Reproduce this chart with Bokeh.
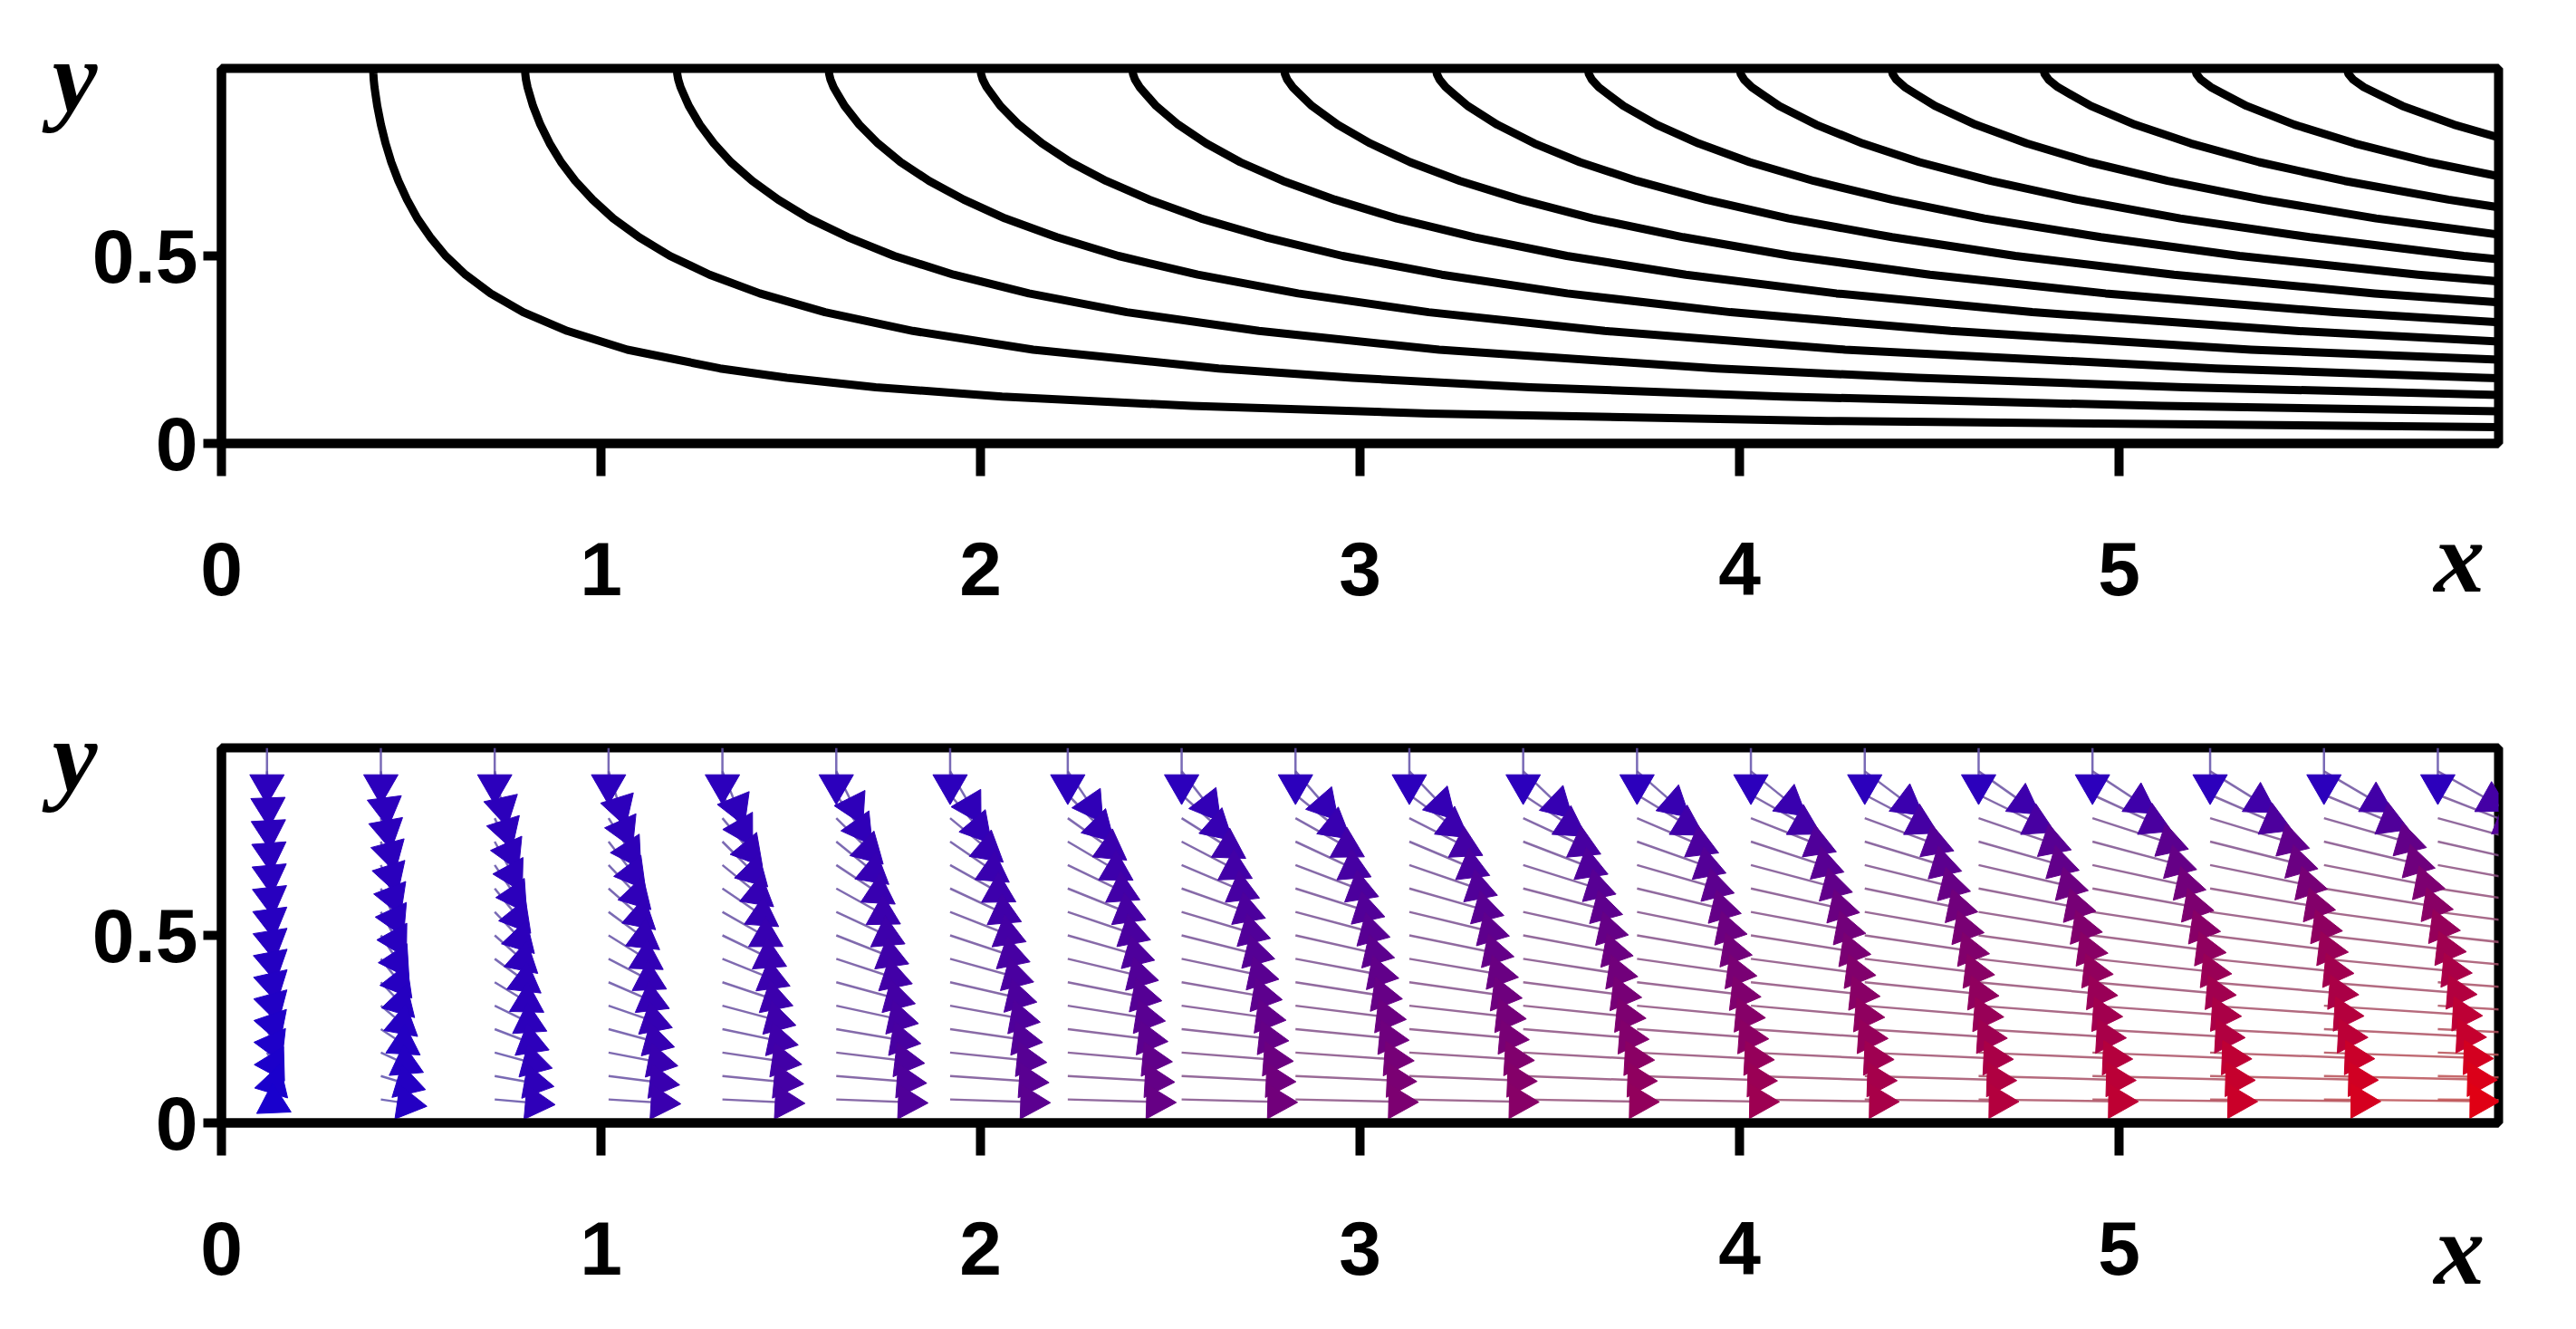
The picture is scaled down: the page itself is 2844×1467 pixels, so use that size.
import math
from bokeh.plotting import figure
from bokeh.models import Range1d, FixedTicker, LinearAxis, ColumnDataSource
from bokeh.layouts import column
from bokeh.embed import file_html
from bokeh.resources import INLINE

# ---------------- data ----------------
# where each streamline leaves the injecting (top) wall, x
stream_top_x = [0.4, 0.8, 1.2, 1.6, 2.0, 2.4, 2.8, 3.2, 3.6, 4.0, 4.4, 4.8, 5.2, 5.6]
# normalised stream-function profile across the channel (psi = x * f(y))
profile_y = [1.0, 0.985, 0.97, 0.95, 0.93, 0.9, 0.85, 0.8, 0.75, 0.7, 0.65, 0.6, 0.55,
             0.5, 0.45, 0.4, 0.35, 0.3, 0.25, 0.2, 0.175, 0.15, 0.125, 0.1, 0.08, 0.06,
             0.04, 0.02, 0.01]
profile_f = [1.0, 0.9992, 0.997, 0.992, 0.985, 0.9745, 0.952, 0.925, 0.894, 0.858, 0.818,
             0.775, 0.727, 0.677, 0.622, 0.564, 0.503, 0.439, 0.374, 0.3045, 0.2685, 0.232,
             0.1945, 0.1565, 0.1257, 0.0945, 0.063, 0.0316, 0.0158]

# quiver grid
arrow_cols_x = [0.12, 0.42, 0.72, 1.02, 1.32, 1.62, 1.92, 2.23, 2.53, 2.83,
                3.13, 3.43, 3.73, 4.03, 4.33, 4.63, 4.93, 5.24, 5.54, 5.84]
arrow_rows_y = [1.0, 0.9375, 0.875, 0.8125, 0.75, 0.6875, 0.625, 0.5625,
                0.5, 0.4375, 0.375, 0.3125, 0.25, 0.1875, 0.125, 0.0625]
# axial velocity per unit x, and transverse velocity, at each row
row_u_rate = [0.0, 0.30, 0.42, 0.58, 0.67, 0.78, 0.88, 0.97,
              1.05, 1.13, 1.20, 1.28, 1.34, 1.45, 1.51, 1.55]
row_v = [-1.0, -0.990, -0.964, -0.932, -0.894, -0.848, -0.797, -0.739,
         -0.677, -0.608, -0.534, -0.455, -0.374, -0.287, -0.195, -0.098]

x_ticks = [0, 1, 2, 3, 4, 5]
x_tick_labels = ["0", "1", "2", "3", "4", "5"]
y_ticks = [0, 0.5]
y_tick_labels = ["0", "0.5"]
x_name, y_name = "x", "y"
x_name_pos, y_name_pos = 5.897, 0.978

# ---------------- styling / layout ----------------
FW, FH = 2514, 414
X_END, Y_END = 6.0, 1.0
TICK_FONT = "Liberation Sans"
LABEL_FONT = "Liberation Serif"
AX_W = 10


def make_fig(top, bottom, x_name_standoff):
    p = figure(frame_width=FW, frame_height=FH, x_range=Range1d(0, X_END),
               y_range=Range1d(0, Y_END), output_backend="svg", toolbar_location=None,
               min_border_left=244, min_border_right=70, min_border_top=top,
               min_border_bottom=bottom)
    p.grid.visible = False
    p.background_fill_color = "white"
    p.border_fill_color = "white"
    p.outline_line_color = "black"
    p.outline_line_width = AX_W
    for ax, ticks, labels in ((p.xaxis[0], x_ticks, x_tick_labels),
                              (p.yaxis[0], y_ticks, y_tick_labels)):
        ax.ticker = FixedTicker(ticks=ticks)
        ax.major_label_overrides = {t: l for t, l in zip(ticks, labels)}
        ax.axis_line_width = AX_W
        ax.axis_line_color = "black"
        ax.major_tick_line_width = AX_W
        ax.major_tick_line_color = "black"
        ax.major_tick_in = 0
        ax.minor_tick_line_color = None
        ax.major_label_text_font = TICK_FONT
        ax.major_label_text_font_style = "bold"
        ax.major_label_text_font_size = "84px"
        ax.major_label_text_color = "black"
    p.xaxis[0].major_tick_out = 36
    p.xaxis[0].major_label_standoff = 73
    p.yaxis[0].major_tick_out = 20
    p.yaxis[0].major_label_standoff = 6

    # axis names: single-label guide axes stacked outside the main axes
    name_style = dict(axis_line_color=None, major_tick_line_color=None,
                      minor_tick_line_color=None, major_tick_out=0, major_tick_in=0,
                      major_label_text_font=LABEL_FONT,
                      major_label_text_font_style="bold italic",
                      major_label_text_font_size="112px",
                      major_label_text_color="black")
    xn = LinearAxis(ticker=FixedTicker(ticks=[x_name_pos]),
                    major_label_overrides={x_name_pos: x_name},
                    major_label_standoff=x_name_standoff, **name_style)
    yn = LinearAxis(ticker=FixedTicker(ticks=[y_name_pos]),
                    major_label_overrides={y_name_pos: y_name},
                    major_label_standoff=-9, **name_style)
    p.add_layout(xn, "below")
    p.add_layout(yn, "left")
    return p


# ---------------- top: streamlines ----------------
p1 = make_fig(75, 214, -107)
xs, ys = [], []
for c in stream_top_x:
    xs.append([c / f for f in profile_f])
    ys.append(list(profile_y))
p1.multi_line(xs, ys, line_color="black", line_width=9, line_join="round")

# ---------------- bottom: quiver ----------------
p2 = make_fig(122, 190, -93)
px_x, px_y = FW / X_END, FH / Y_END
QS = 0.138          # arrow length scale, data units
QP = 0.55           # arrow length grows as |V|**QP
HEAD = 38           # arrow head size, px
rows = []
for j, y in enumerate(arrow_rows_y):
    for x in arrow_cols_x:
        u = x * row_u_rate[j]
        v = row_v[j]
        rows.append((x, y, u, v, math.hypot(u, v)))
mags = [r[4] for r in rows]
mmin, mmax = min(mags), max(mags)
x0, y0, x1, y1, hx, hy, ang, cols, scol = [], [], [], [], [], [], [], [], []
for x, y, u, v, m in rows:
    L = QS * m ** QP
    dx, dy = L * u / m, L * v / m
    tx, ty = x + dx, y + dy
    phi = math.atan2(dy * px_y, dx * px_x)
    off = 0.577 * HEAD * 0.75
    x0.append(x); y0.append(y); x1.append(tx); y1.append(ty)
    hx.append(tx - off * math.cos(phi) / px_x)
    hy.append(ty - off * math.sin(phi) / px_y)
    ang.append(phi - math.pi / 2)
    t = (m - mmin) / (mmax - mmin)
    r = int(round(25 + 210 * t)); b = int(round(205 - 195 * t))
    cols.append("#%02x%02x%02x" % (r, 0, b))
    scol.append("#%02x%02x%02x" % ((r + 150) // 2, 80, (b + 150) // 2))
src = ColumnDataSource(dict(x0=x0, y0=y0, x1=x1, y1=y1, hx=hx, hy=hy, ang=ang,
                            c=cols, sc=scol))
p2.segment("x0", "y0", "x1", "y1", source=src, line_color="sc", line_alpha=0.85,
           line_width=2.5)
p2.scatter("hx", "hy", source=src, marker="triangle", size=HEAD, angle="ang",
           fill_color="c", line_color="c", line_width=1)

layout = column(p1, p2, spacing=0)
open("out.html", "w").write(file_html(layout, INLINE))
